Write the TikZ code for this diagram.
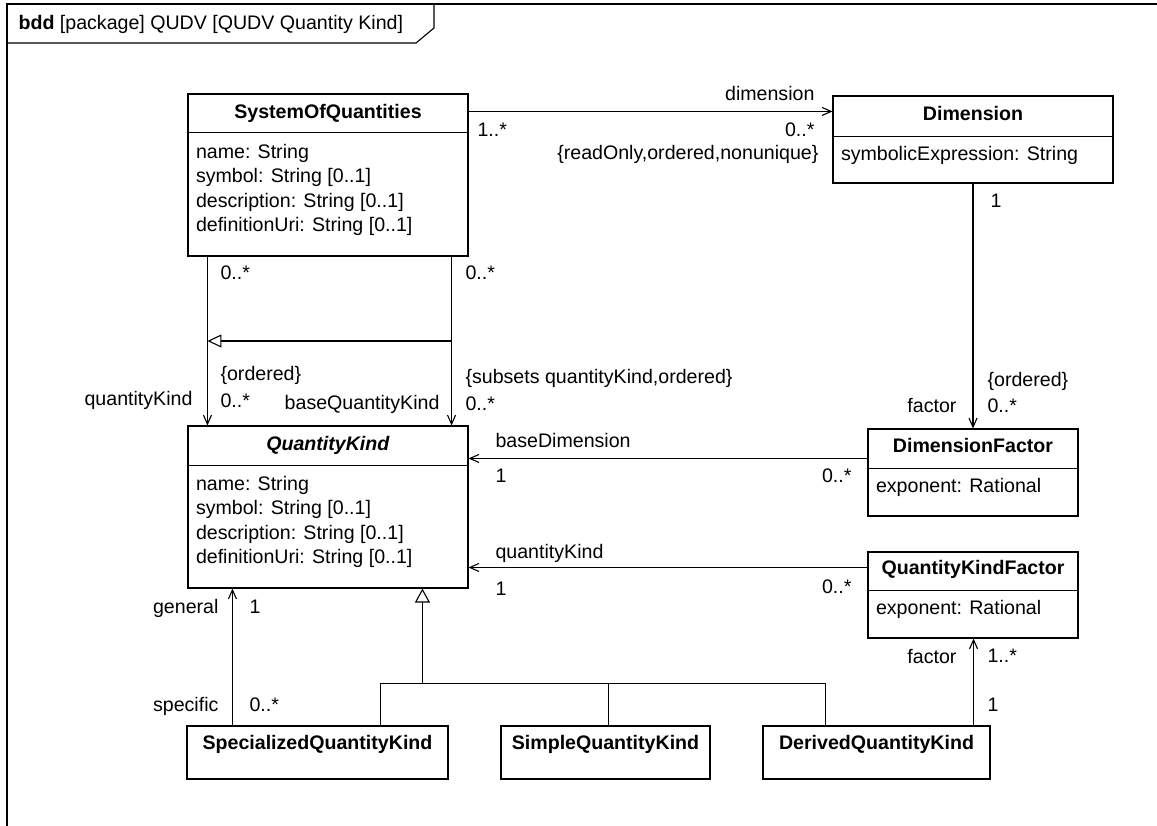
\documentclass[tikz,border=0pt]{standalone}
\usepackage{fontspec}
\setmainfont{Liberation Sans}
\usetikzlibrary{arrows.meta,calc}
\newcommand{\dgfont}{\fontsize{19.6pt}{23.5pt}\selectfont}
\begin{document}
\begin{tikzpicture}[x=1pt,y=-1pt,line width=1.1pt,
  every node/.style={font=\dgfont,inner sep=0pt,text height=14pt,text depth=4pt},
  block/.style={draw,fill=white},
  btitle/.style={font=\dgfont\bfseries},
  attr/.style={anchor=west},
  lab/.style={anchor=west},
  labr/.style={anchor=east},
  assoc/.style={-{Straight Barb[length=9pt,width=8pt]}},
  gen/.style={-{Triangle[open,length=14pt,width=15pt]}},
  subgen/.style={-{Triangle[open,length=14pt,width=13pt]}}]
\useasboundingbox (0,0) rectangle (1157,826);
\fill[white] (0,0) rectangle (1157,826);

% diagram frame and its name tab
\draw (7,826) -- (7,4) -- (1157,4);
\draw (7,43) -- (416,43) -- (434,28) -- (434,4);
\node[anchor=west] (hdr) at (18,25) {\textbf{bdd} [package] QUDV [QUDV Quantity Kind]};

% blocks
\node[block,minimum width=280pt,minimum height=162pt] (soq) at (328,175) {};
\node[block,minimum width=280pt,minimum height=162pt] (qk) at (328,507) {};
\node[block,minimum width=280pt,minimum height=87pt] (dim) at (973,139.5) {};
\node[block,minimum width=210pt,minimum height=87pt] (dimfac) at (973,472.5) {};
\node[block,minimum width=210pt,minimum height=86pt] (qkf) at (973,595) {};
\node[block,minimum width=261pt,minimum height=53pt] (spec) at (317.5,752.5) {};
\node[block,minimum width=209pt,minimum height=53pt] (simp) at (605.5,752.5) {};
\node[block,minimum width=227pt,minimum height=53pt] (der) at (876.5,752.5) {};

% compartment separators
\draw ([yshift=-39pt]soq.north west) -- ([yshift=-39pt]soq.north east);
\draw ([yshift=-40pt]qk.north west) -- ([yshift=-40pt]qk.north east);
\draw ([yshift=-41pt]dim.north west) -- ([yshift=-41pt]dim.north east);
\draw ([yshift=-40pt]dimfac.north west) -- ([yshift=-40pt]dimfac.north east);
\draw ([yshift=-39pt]qkf.north west) -- ([yshift=-39pt]qkf.north east);

% block names
\node[btitle] (soqT) at ([yshift=-20pt]soq.north) {SystemOfQuantities};
\node[btitle] (qkT) at ([yshift=-20pt]qk.north) {\textit{QuantityKind}};
\node[btitle] (dimT) at ([yshift=-20pt]dim.north) {Dimension};
\node[btitle] (dimfacT) at ([yshift=-19pt]dimfac.north) {DimensionFactor};
\node[btitle] (qkfT) at ([yshift=-18pt]qkf.north) {QuantityKindFactor};
\node[btitle] (specT) at ([yshift=-19pt]spec.north) {SpecializedQuantityKind};
\node[btitle] (simpT) at ([yshift=-19pt]simp.north) {SimpleQuantityKind};
\node[btitle] (derT) at ([yshift=-19pt]der.north) {DerivedQuantityKind};

% attributes
\node[attr] (soqA1) at ([xshift=8pt,yshift=-60pt]soq.north west) {name: String};
\node[attr] (soqA2) at ([xshift=8pt,yshift=-84.5pt]soq.north west) {symbol: String [0..1]};
\node[attr] (soqA3) at ([xshift=8pt,yshift=-109pt]soq.north west) {description: String [0..1]};
\node[attr] (soqA4) at ([xshift=8pt,yshift=-133.5pt]soq.north west) {definitionUri: String [0..1]};
\node[attr] (qkA1) at ([xshift=8pt,yshift=-60pt]qk.north west) {name: String};
\node[attr] (qkA2) at ([xshift=8pt,yshift=-84.5pt]qk.north west) {symbol: String [0..1]};
\node[attr] (qkA3) at ([xshift=8pt,yshift=-109pt]qk.north west) {description: String [0..1]};
\node[attr] (qkA4) at ([xshift=8pt,yshift=-133.5pt]qk.north west) {definitionUri: String [0..1]};
\node[attr] (dimA1) at ([xshift=8pt,yshift=-60pt]dim.north west) {symbolicExpression: String};
\node[attr] (dimfacA1) at ([xshift=8pt,yshift=-59pt]dimfac.north west) {exponent: Rational};
\node[attr] (qkfA1) at ([xshift=8pt,yshift=-58pt]qkf.north west) {exponent: Rational};

% SystemOfQuantities -> Dimension
\coordinate (d1) at ([yshift=-18pt]soq.north east);
\draw[assoc] (d1) -- (d1 -| dim.west);
\node[labr] (dimRole) at (815,96) {dimension};
\node[lab] (dimM1) at (477,132) {1..*};
\node[labr] (dimM2) at (815,132) {0..*};
\node[labr] (dimProp) at (819,155) {\{readOnly,ordered,nonunique\}};

% SystemOfQuantities -> QuantityKind (two associations)
\coordinate (q1) at ([xshift=20pt]soq.south west);
\coordinate (q2) at ([xshift=-17pt]soq.south east);
\coordinate (q1b) at (q1 |- qk.north);
\coordinate (q2b) at (q2 |- qk.north);
\draw[assoc] (q1) -- (q1b);
\draw[assoc] (q2) -- (q2b);
\draw[subgen] ($(q2)!0.5!(q2b)$) -- ($(q1)!0.5!(q1b)$);
\node[lab] (qkM1) at (220,275) {0..*};
\node[lab] (bqkM1) at (465,275) {0..*};
\node[lab] (qkProp) at (220,376) {\{ordered\}};
\node[lab] (qkM2) at (220,402) {0..*};
\node[labr] (qkRole) at (193,401) {quantityKind};
\node[lab] (bqkProp) at (465,379) {\{subsets quantityKind,ordered\}};
\node[lab] (bqkM2) at (465,405) {0..*};
\node[labr] (bqkRole) at (440,404) {baseQuantityKind};

% DimensionFactor -> QuantityKind
\coordinate (b1) at ([yshift=-30pt]dimfac.north west);
\draw[assoc] (b1) -- (b1 -| qk.east);
\node[lab] (bdRole) at (495,442) {baseDimension};
\node[lab] (bdM1) at (495,477) {1};
\node[labr] (bdM2) at (852,477) {0..*};

% QuantityKindFactor -> QuantityKind
\coordinate (k1) at ([yshift=-16pt]qkf.north west);
\draw[assoc] (k1) -- (k1 -| qk.east);
\node[lab] (kfRole) at (495,553) {quantityKind};
\node[lab] (kfM1) at (495,590) {1};
\node[labr] (kfM2) at (852,588) {0..*};

% Dimension -> DimensionFactor
\draw[assoc] (dim.south) -- (dimfac.north);
\node[lab] (dfM1) at (990,203) {1};
\node[lab] (dfProp) at (987,381) {\{ordered\}};
\node[labr] (dfRole) at (957,407) {factor};
\node[lab] (dfM2) at (987,407) {0..*};

% DerivedQuantityKind -> QuantityKindFactor
\coordinate (f1) at ([xshift=-17pt]der.north east);
\draw[assoc] (f1) -- (f1 |- qkf.south);
\node[labr] (qfRole) at (957,658) {factor};
\node[lab] (qfM2) at (987,657) {1..*};
\node[lab] (qfM1) at (987,706) {1};

% SpecializedQuantityKind -> QuantityKind
\coordinate (g1) at ([xshift=46pt]spec.north west);
\draw[assoc] (g1) -- (g1 |- qk.south);
\node[labr] (genRole) at (219,608) {general};
\node[lab] (genM) at (249,608) {1};
\node[labr] (specRole) at (219,706) {specific};
\node[lab] (specM) at (249,706) {0..*};

% generalization tree of the QuantityKind subtypes
\coordinate (t0) at ([xshift=235pt]qk.south west);
\coordinate (bus) at ([yshift=-95pt]t0);
\draw[gen] (bus) -- (t0);
\coordinate (s1) at ([xshift=194pt]spec.north west);
\coordinate (s2) at ([xshift=108pt]simp.north west);
\coordinate (s3) at ([xshift=63pt]der.north west);
\draw (s1) |- (s3 |- bus) -- (s3);
\draw (s2) -- (s2 |- bus);
\end{tikzpicture}
\end{document}
